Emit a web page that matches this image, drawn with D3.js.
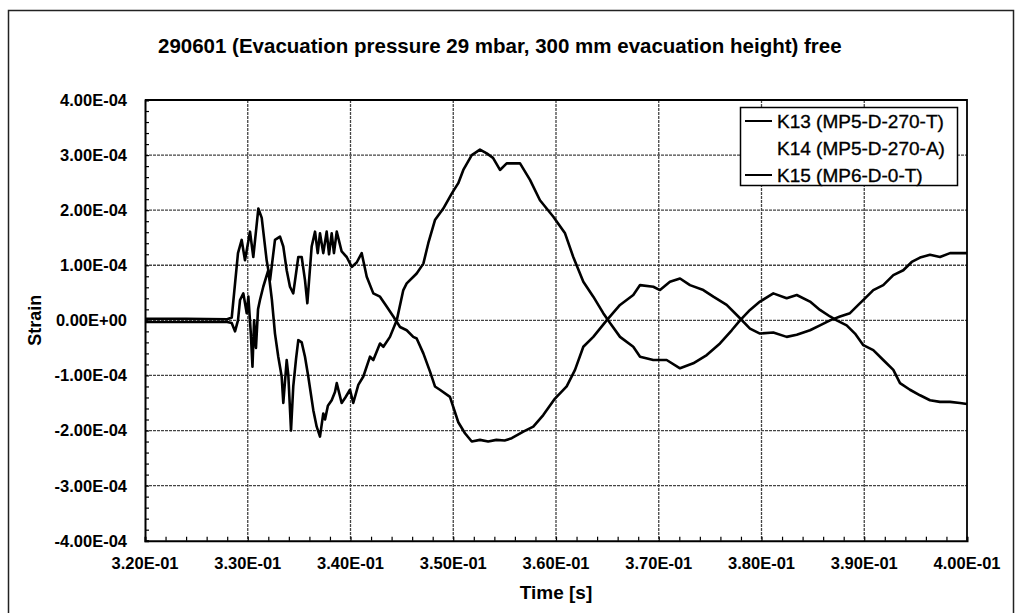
<!DOCTYPE html>
<html><head><meta charset="utf-8">
<script src="https://cdn.jsdelivr.net/npm/d3@7"></script>
<style>
body{margin:0;background:#fff;}
svg{display:block;font-family:Arial,"Liberation Sans",sans-serif;}
</style>
</head><body>
<svg id="chart" width="1020" height="613"></svg>
<script>
// ---------------- data ----------------
const chartTitle = "290601 (Evacuation pressure 29 mbar, 300 mm evacuation height) free";
const xAxisTitle = "Time [s]";
const yAxisTitle = "Strain";
const xTicks = [0.32, 0.33, 0.34, 0.35, 0.36, 0.37, 0.38, 0.39, 0.40];
const xTickLabels = ["3.20E-01","3.30E-01","3.40E-01","3.50E-01","3.60E-01","3.70E-01","3.80E-01","3.90E-01","4.00E-01"];
const yTicks = [4e-4, 3e-4, 2e-4, 1e-4, 0, -1e-4, -2e-4, -3e-4, -4e-4];
const yTickLabels = ["4.00E-04","3.00E-04","2.00E-04","1.00E-04","0.00E+00","-1.00E-04","-2.00E-04","-3.00E-04","-4.00E-04"];
const seriesNames = ["K13 (MP5-D-270-T)", "K14 (MP5-D-270-A)", "K15 (MP6-D-0-T)"];
const seriesColors = ["#000000", "none", "#000000"];

// K13: time [s], strain in units of 1E-04
const k13Time = [0.3200,0.3240,0.3280,0.32844,0.32905,0.32941,0.32973,0.33022,0.33054,0.33103,0.33136,0.33184,0.33217,0.33265,0.33314,0.33346,0.33379,0.33411,0.33443,0.33492,0.33525,0.33557,0.33580,0.33622,
0.33655,0.33681,0.33703,0.33735,0.33768,0.33791,0.33817,0.33839,0.33866,0.33914,0.33963,0.34012,0.34060,0.34109,0.34158,0.34222,0.34287,0.34352,0.34417,0.34482,0.34547,0.34611,0.34644,0.34709,0.34774,0.34822,0.34870,0.34968,0.35049,0.35114,0.35180,0.35260,0.35340,0.35420,0.35500,0.35569,0.35682,0.35779,0.35876,0.35990,0.36104,0.36185,0.36266,0.36363,0.36493,0.36623,0.36752,0.36818,0.36947,0.37012,0.37109,0.37207,0.37304,0.37434,0.37531,0.37661,0.37774,
0.37888,0.37985,0.38115,0.38245,0.38343,0.38472,0.38569,0.38667,0.38764,0.38861,0.38942,0.39007,0.39088,0.39185,0.39283,0.39380,0.39462,0.39543,0.39640,0.39737,0.39835,0.39932,0.40000];
const k13StrainE4 = [0.03,0.03,0.02,0.05,1.22,1.46,1.09,1.61,1.15,2.03,1.86,1.09,0.73,1.46,1.52,1.34,0.91,0.61,0.49,1.15,1.15,0.73,0.31,1.34,
1.61,1.22,1.58,1.22,1.61,1.20,1.58,1.22,1.61,1.25,1.15,0.97,1.05,1.22,0.79,0.49,0.43,0.25,0.07,-0.12,-0.18,-0.30,-0.33,-0.60,-0.93,-1.20,-1.26,-1.39,-1.85,-2.05,-2.20,-2.17,-2.20,-2.17,-2.18,-2.14,-2.02,-1.93,-1.72,-1.42,-1.20,-0.90,-0.48,-0.30,0.00,0.28,0.46,0.64,0.61,0.55,0.70,0.76,0.64,0.55,0.43,0.28,0.07,
-0.15,-0.24,-0.22,-0.30,-0.26,-0.18,-0.09,0.00,0.07,0.13,0.28,0.40,0.55,0.64,0.82,0.91,1.06,1.14,1.19,1.15,1.22,1.22,1.22];

// K15: time [s], strain in units of 1E-04
const k15Time = [0.3200,0.3240,0.3280,0.32844,0.32876,0.32905,0.32925,0.32957,0.32990,0.33006,0.33030,0.33046,0.33062,0.33080,0.33100,0.33119,0.33151,0.33200,0.33235,0.33265,0.33297,0.33330,0.33346,0.33379,0.33395,0.33421,0.33443,0.33470,0.33492,0.33525,0.33557,0.33589,0.33638,0.33671,0.33703,0.33735,0.33752,0.33780,0.33817,0.33849,0.33866,0.33914,0.33950,0.33995,0.34027,0.34076,0.34125,0.34190,0.34222,0.34287,0.34320,0.34384,0.34450,
0.34514,0.34547,0.34644,0.34709,0.34757,0.34822,0.34903,0.34985,0.35049,0.35098,0.35180,0.35260,0.35326,0.35387,0.35455,0.35520,0.35600,0.35650,0.35747,0.35844,0.35974,0.36088,0.36168,0.36266,0.36363,0.36460,0.36526,0.36623,0.36752,0.36818,0.36947,0.37077,0.37207,0.37336,0.37467,0.37596,0.37710,0.37791,
0.37888,0.37985,0.38115,0.38245,0.38343,0.38472,0.38569,0.38667,0.38732,0.38829,0.38910,0.38991,0.39088,0.39185,0.39283,0.39348,0.39445,0.39543,0.39640,0.39737,0.39835,0.39932,0.40000];
const k15StrainE4 = [-0.03,-0.03,-0.03,-0.05,-0.20,0.00,0.37,0.49,0.13,0.43,-0.24,-0.84,0.00,-0.50,0.20,0.37,0.61,0.91,0.37,-0.24,-0.66,-1.02,-1.50,-0.72,-1.00,-2.00,-1.20,-0.70,-0.36,-0.40,-0.66,-1.02,-1.63,-1.93,-2.11,-1.69,-1.80,-1.55,-1.45,-1.30,-1.14,-1.50,-1.40,-1.26,-1.50,-1.17,-1.02,-0.66,-0.72,-0.42,-0.48,-0.30,0.00,
0.55,0.67,0.85,1.03,1.40,1.82,2.03,2.30,2.49,2.73,3.00,3.10,3.03,2.95,2.73,2.85,2.85,2.85,2.55,2.18,1.88,1.58,1.15,0.70,0.43,0.13,-0.05,-0.30,-0.48,-0.66,-0.72,-0.72,-0.87,-0.78,-0.63,-0.42,-0.18,0.00,
0.19,0.34,0.49,0.40,0.46,0.34,0.19,0.07,0.00,-0.09,-0.24,-0.45,-0.54,-0.72,-0.90,-1.14,-1.26,-1.36,-1.45,-1.48,-1.48,-1.50,-1.52];

// ---------------- drawing ----------------
const svg = d3.select("#chart");
const W = 1020, H = 613;
const plot = {left: 145, right: 967, top: 100, bottom: 540.7};

svg.append("rect").attr("width", W).attr("height", H).attr("fill", "#fff");
// outer chart frame
svg.append("path").attr("d", `M8.5,${H} V10.5 H1013.5 V${H}`)
  .attr("fill","none").attr("stroke","#222").attr("stroke-width",1.5);

const x = d3.scaleLinear().domain([0.32, 0.40]).range([plot.left, plot.right]);
const y = d3.scaleLinear().domain([-4e-4, 4e-4]).range([plot.bottom, plot.top]);

// gridlines
const grid = svg.append("g");
grid.selectAll("line.h").data(yTicks.slice(1, -1)).join("line")
  .attr("x1", plot.left).attr("x2", plot.right)
  .attr("y1", d => y(d)).attr("y2", d => y(d))
  .attr("stroke", "#444").attr("stroke-width", 1.3).attr("stroke-dasharray", "3,1");
grid.selectAll("line.v").data(xTicks.slice(1, -1)).join("line")
  .attr("y1", plot.top).attr("y2", plot.bottom)
  .attr("x1", d => x(d)).attr("x2", d => x(d))
  .attr("stroke", "#444").attr("stroke-width", 1.3).attr("stroke-dasharray", "3,1");

// axes with inward minor ticks
const xMinor = d3.range(0, 41).map(i => 0.32 + i * 0.002);
const yMinor = d3.range(0, 41).map(i => -4e-4 + i * 0.2e-4);
const xAxis = d3.axisBottom(x).tickValues(xMinor).tickSize(-4).tickFormat("");
const yAxis = d3.axisLeft(y).tickValues(yMinor).tickSize(-4).tickFormat("");
const gx = svg.append("g").attr("transform", `translate(0,${plot.bottom})`).call(xAxis);
const gy = svg.append("g").attr("transform", `translate(${plot.left},0)`).call(yAxis);
[gx, gy].forEach(g => {
  g.select(".domain").attr("stroke", "#000").attr("stroke-width", 2);
  g.selectAll(".tick line").attr("stroke", "#000").attr("stroke-width", 1.2);
});
// plot frame top/right
svg.append("path").attr("d", `M${plot.left},${plot.top} H${plot.right} V${plot.bottom}`)
  .attr("fill","none").attr("stroke","#000").attr("stroke-width",1.8);

// tick labels
svg.append("g").selectAll("text").data(xTicks).join("text")
  .attr("x", d => x(d)).attr("y", 569)
  .attr("text-anchor", "middle").attr("font-size", 16.5).attr("font-weight", "bold")
  .text((d, i) => xTickLabels[i]);
svg.append("g").selectAll("text").data(yTicks).join("text")
  .attr("x", 127).attr("y", d => y(d)).attr("dy", "0.36em")
  .attr("text-anchor", "end").attr("font-size", 16.5).attr("font-weight", "bold")
  .text((d, i) => yTickLabels[i]);

// titles
svg.append("text").attr("x", 158).attr("y", 53)
  .attr("font-size", 20.5).attr("font-weight", "bold").text(chartTitle);
svg.append("text").attr("x", (plot.left + plot.right) / 2).attr("y", 599)
  .attr("text-anchor", "middle").attr("font-size", 19).attr("font-weight", "bold").text(xAxisTitle);
svg.append("text").attr("transform", `translate(41,${y(0)}) rotate(-90)`)
  .attr("text-anchor", "middle").attr("font-size", 18).attr("font-weight", "bold").text(yAxisTitle);

// series
const series = [
  {name: seriesNames[0], color: seriesColors[0], pts: k13Time.map((t, i) => [t, k13StrainE4[i] * 1e-4])},
  {name: seriesNames[2], color: seriesColors[2], pts: k15Time.map((t, i) => [t, k15StrainE4[i] * 1e-4])}
];
const line = d3.line().x(d => x(d[0])).y(d => y(d[1]));
svg.append("g").selectAll("path").data(series).join("path")
  .attr("d", d => line(d.pts))
  .attr("fill", "none").attr("stroke", d => d.color)
  .attr("stroke-width", 2.6).attr("stroke-linejoin", "round");

// legend
const lg = svg.append("g");
lg.append("rect").attr("x", 740.5).attr("y", 107.5).attr("width", 217).attr("height", 78)
  .attr("fill", "#fff").attr("stroke", "#000").attr("stroke-width", 1.5);
const rows = lg.selectAll("g").data(seriesNames).join("g")
  .attr("transform", (d, i) => `translate(745,${121 + i * 27})`);
rows.append("line").attr("x1", 0).attr("x2", 27).attr("y1", 0).attr("y2", 0)
  .attr("stroke", (d, i) => seriesColors[i]).attr("stroke-width", 2);
rows.append("text").attr("x", 32).attr("y", 0).attr("dy", "0.36em")
  .attr("font-size", 19).attr("stroke", "#000").attr("stroke-width", 0.35)
  .text(d => d);
</script>
</body></html>
